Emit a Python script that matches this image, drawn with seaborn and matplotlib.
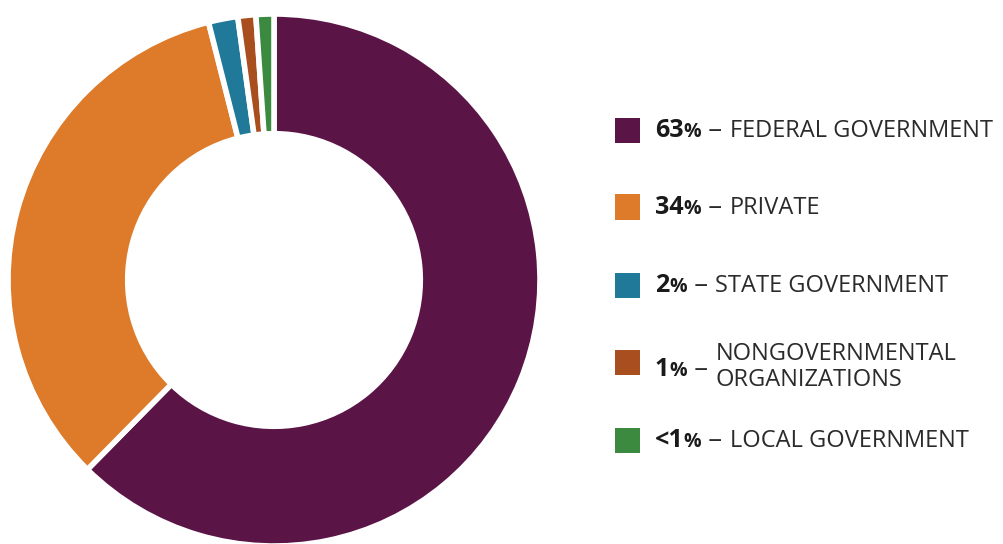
import matplotlib
matplotlib.use("Agg")
import matplotlib.pyplot as plt
from matplotlib.patches import Rectangle
from matplotlib.offsetbox import TextArea, HPacker, AnnotationBbox
import seaborn as sns

# ---- data ----
categories = ["FEDERAL GOVERNMENT", "PRIVATE", "STATE GOVERNMENT",
              "NONGOVERNMENTAL\nORGANIZATIONS", "LOCAL GOVERNMENT"]
values = [63, 34, 1.8, 1.1, 1.1]
pct_labels = ["63", "34", "2", "1", "<1"]
colors = ["#5b1446", "#de7b2b", "#21799a", "#a94f1f", "#3b8a3f"]

sns.set_theme(style="white")
plt.rcParams['font.family'] = ['Open Sans', 'DejaVu Sans']
palette = sns.color_palette(colors)

W, H = 1004, 544
fig = plt.figure(figsize=(W / 100, H / 100), dpi=100)
fig.patch.set_facecolor("white")

# donut axes: center ~ (274, 280 from top), radius 266 px
cx, cy, R = 274, H - 280, 266
ax = fig.add_axes([(cx - R) / W, (cy - R) / H, 2 * R / W, 2 * R / H])
ax.pie(values, colors=palette, startangle=90, counterclock=False,
       radius=1.0, wedgeprops=dict(width=0.45, edgecolor="white", linewidth=4))
ax.set_xlim(-1, 1)
ax.set_ylim(-1, 1)
ax.set_aspect("equal")
ax.axis("off")

# legend
row_y = [130, 207, 285, 362, 440]  # from top, px
text_shift = [0, 0, 0, -5, 0]
sq_x, sq = 615, 25
num_color = "#1a1a1a"
text_color = "#2b2b2b"
for lab, pct, col, yy, sh in zip(categories, pct_labels, palette, row_y, text_shift):
    ypix = H - yy
    fig.add_artist(Rectangle((sq_x / W, (ypix - sq / 2) / H), sq / W, sq / H,
                             transform=fig.transFigure, facecolor=col,
                             edgecolor="none"))
    num = TextArea(pct, textprops=dict(fontsize=18, fontweight="bold", color=num_color))
    per = TextArea("%", textprops=dict(fontsize=14, fontweight="bold", color=num_color))
    dash = TextArea(" \u2013 ", textprops=dict(fontsize=20, color=text_color))
    txt = TextArea(lab, textprops=dict(fontsize=17, color=text_color, linespacing=1.1),
                   multilinebaseline=True)
    box = HPacker(children=[num, per, dash, txt], align="baseline", pad=0, sep=0)
    ab = AnnotationBbox(box, (655, ypix + sh), xycoords="figure pixels",
                        box_alignment=(0, 0.5), frameon=False, pad=0)
    fig.add_artist(ab)

fig.savefig("out.png", dpi=100, facecolor="white")
